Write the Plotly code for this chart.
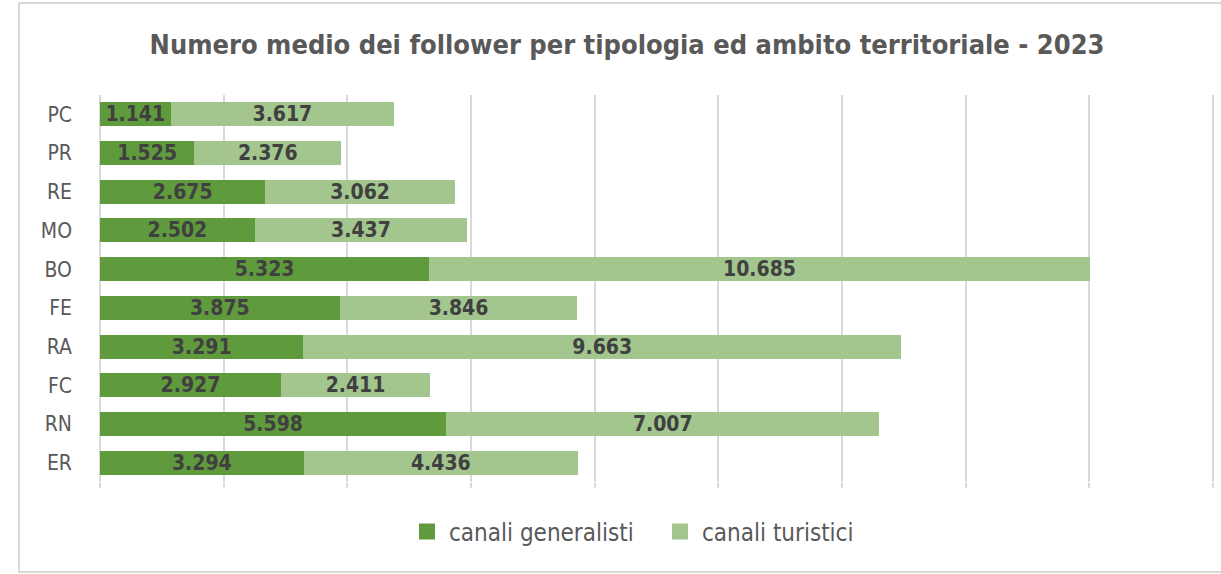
import plotly.graph_objects as go

categories = ["PC", "PR", "RE", "MO", "BO", "FE", "RA", "FC", "RN", "ER"]
generalisti = [1141, 1525, 2675, 2502, 5323, 3875, 3291, 2927, 5598, 3294]
turistici = [3617, 2376, 3062, 3437, 10685, 3846, 9663, 2411, 7007, 4436]
x_ticks = [0, 2000, 4000, 6000, 8000, 10000, 12000, 14000, 16000, 18000]

DARK = "#5f9a3d"
LIGHT = "#a2c68e"
GRID = "#d9d9d9"
FONT = "DejaVu Sans Condensed, Roboto, sans-serif"
label_font = dict(family=FONT, size=21, color="#404040")

fig = go.Figure()
for name, vals, col in [("canali generalisti", generalisti, DARK),
                        ("canali turistici", turistici, LIGHT)]:
    fig.add_trace(go.Bar(
        y=categories, x=vals, orientation="h", name=name, showlegend=False,
        legendgroup=name,
        marker=dict(color=col, line=dict(width=0)),
        texttemplate="<b>%{x:,}</b>", textposition="inside", insidetextanchor="middle",
        constraintext="none", textfont=label_font, hoverinfo="x+name",
    ))
    # legend entry with a larger square swatch
    fig.add_trace(go.Scatter(
        x=[None], y=[None], mode="markers", name=name, legendgroup=name,
        marker=dict(symbol="square", size=18, color=col), showlegend=True,
    ))

W, H = 1221, 574
L, R, T, B = 96, 0, 95, 92
pw = W - L - R
ph = H - T - B
# the value axis: 0 sits at x=100px and 18000 at x=1213px
zero_px, top_px = 100, 1213
scale = (top_px - zero_px) / x_ticks[-1]
x_min = -(zero_px - L) / scale
x_max = x_min + pw / scale

def px2paper_x(px):
    return (px - L) / pw

def px2paper_y(py):
    return (H - B - py) / ph

fig.update_layout(
    width=W, height=H,
    barmode="stack", bargap=0.38,
    separators=",.",
    plot_bgcolor="white", paper_bgcolor="white",
    margin=dict(l=L, r=R, t=T, b=B, autoexpand=False),
    title=dict(text="<b>Numero medio dei follower per tipologia ed ambito territoriale - 2023</b>",
               x=px2paper_x(627), xref="paper", xanchor="center", y=1 - 45 / H, yanchor="middle",
               font=dict(family=FONT, size=27, color="#595959")),
    xaxis=dict(range=[x_min, x_max], tickvals=x_ticks, showticklabels=False,
               showgrid=True, gridcolor=GRID, gridwidth=1.5,
               ticks="outside", ticklen=5, tickcolor=GRID, tickwidth=1.5,
               zeroline=False, showline=False, fixedrange=True),
    yaxis=dict(categoryorder="array", categoryarray=categories[::-1],
               tickfont=dict(family=FONT, size=21, color="#595959"),
               ticks="", showgrid=False, zeroline=False, showline=False,
               ticklabelstandoff=23),
    legend=dict(orientation="h", x=px2paper_x(405), xanchor="left",
                y=px2paper_y(532), yanchor="middle",
                font=dict(family=FONT, size=24, color="#595959"),
                itemwidth=34, entrywidth=204, traceorder="normal"),
    showlegend=True,
)

fig.add_shape(type="rect", xref="paper", yref="paper",
              x0=px2paper_x(19), x1=px2paper_x(W + 5),
              y0=px2paper_y(572), y1=px2paper_y(3),
              line=dict(color=GRID, width=2), fillcolor="rgba(0,0,0,0)", layer="below")

fig.write_html("out.html", config={"displayModeBar": False},
               post_script="document.body.style.margin='0px';"
                           "document.body.style.overflow='hidden';")
